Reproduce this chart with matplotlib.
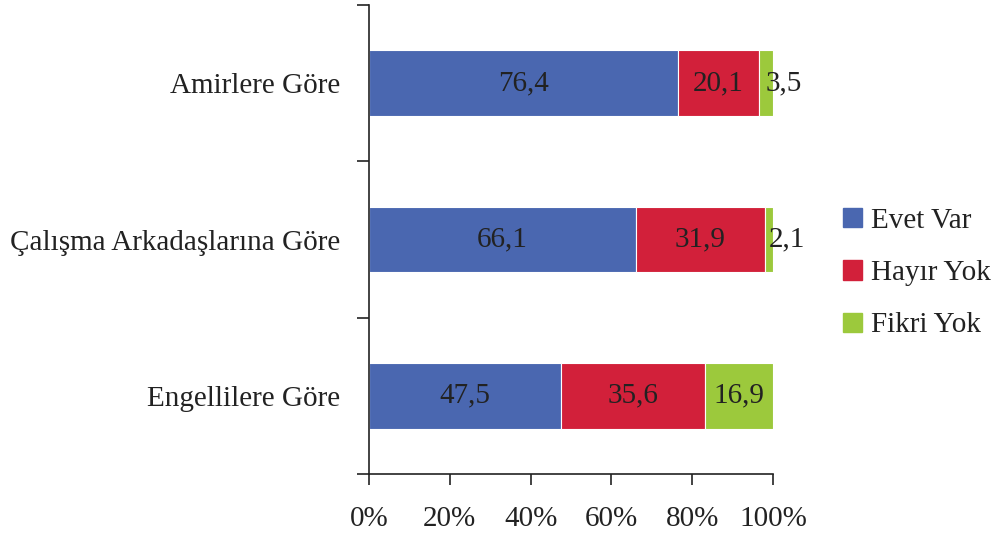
import matplotlib
matplotlib.use("Agg")
import matplotlib.pyplot as plt
import numpy as np
from matplotlib.ticker import FixedLocator, FuncFormatter

plt.rcParams['font.family'] = ['Liberation Serif', 'DejaVu Serif']

categories = ["Amirlere Göre", "Çalışma Arkadaşlarına Göre", "Engellilere Göre"]
series_names = ["Evet Var", "Hayır Yok", "Fikri Yok"]
evet = [76.4, 66.1, 47.5]
hayir = [20.1, 31.9, 35.6]
fikri = [3.5, 2.1, 16.9]
colors = ["#4A67B0", "#D2203A", "#9CC93C"]
xticks = [0, 20, 40, 60, 80, 100]

data = np.array([evet, hayir, fikri])
totals = data.sum(axis=0)
pct = data / totals * 100

fig = plt.figure(figsize=(9.93, 5.35), dpi=100)
ax = fig.add_axes([369/993, 1-474/535, (773-369)/993, (474-5)/535])

ypos = np.arange(len(categories))[::-1]
left = np.zeros(len(categories))
handles = []
for i, name in enumerate(series_names):
    bars = ax.barh(ypos, pct[i], left=left, height=0.42, color=colors[i], label=name,
                   edgecolor='white', linewidth=0.8)
    handles.append(bars)
    for j in range(len(categories)):
        cx = left[j] + pct[i][j] / 2
        small = pct[i][j] < 5
        ax.text(cx, ypos[j], f"{data[i][j]:.1f}".replace('.', ','),
                ha='left' if small else 'center', va='center',
                fontsize=21, color='#222222')
    left += pct[i]

ax.set_xlim(0, 100)
ax.set_ylim(-0.5, 2.5)
ax.xaxis.set_major_locator(FixedLocator(xticks))
ax.xaxis.set_major_formatter(FuncFormatter(lambda v, p: f"{int(v)}%"))
ax.tick_params(axis='x', direction='out', length=8, width=1.2, labelsize=21, pad=15, colors='#222222')

ax.set_yticks(ypos)
ax.set_yticklabels(categories)
ax.tick_params(axis='y', which='major', length=0, labelsize=21, pad=21, colors='#222222')
ax.yaxis.set_minor_locator(FixedLocator([-0.5, 0.5, 1.5, 2.5]))
ax.tick_params(axis='y', which='minor', direction='out', length=9, width=1.2, color='#222222')

for s in ['top', 'right']:
    ax.spines[s].set_visible(False)
for s in ['left', 'bottom']:
    ax.spines[s].set_linewidth(1.2)
    ax.spines[s].set_color('#222222')

fig.legend(handles=[plt.Rectangle((0, 0), 1, 1, color=c) for c in colors], labels=series_names,
           loc='upper left', bbox_to_anchor=(843/993, 1-208/535), borderaxespad=0,
           frameon=False, fontsize=21, handlelength=0.65, handleheight=0.65, handletextpad=0.3,
           labelspacing=0.9, borderpad=0, labelcolor='#222222')

fig.savefig("out.png", dpi=100)
